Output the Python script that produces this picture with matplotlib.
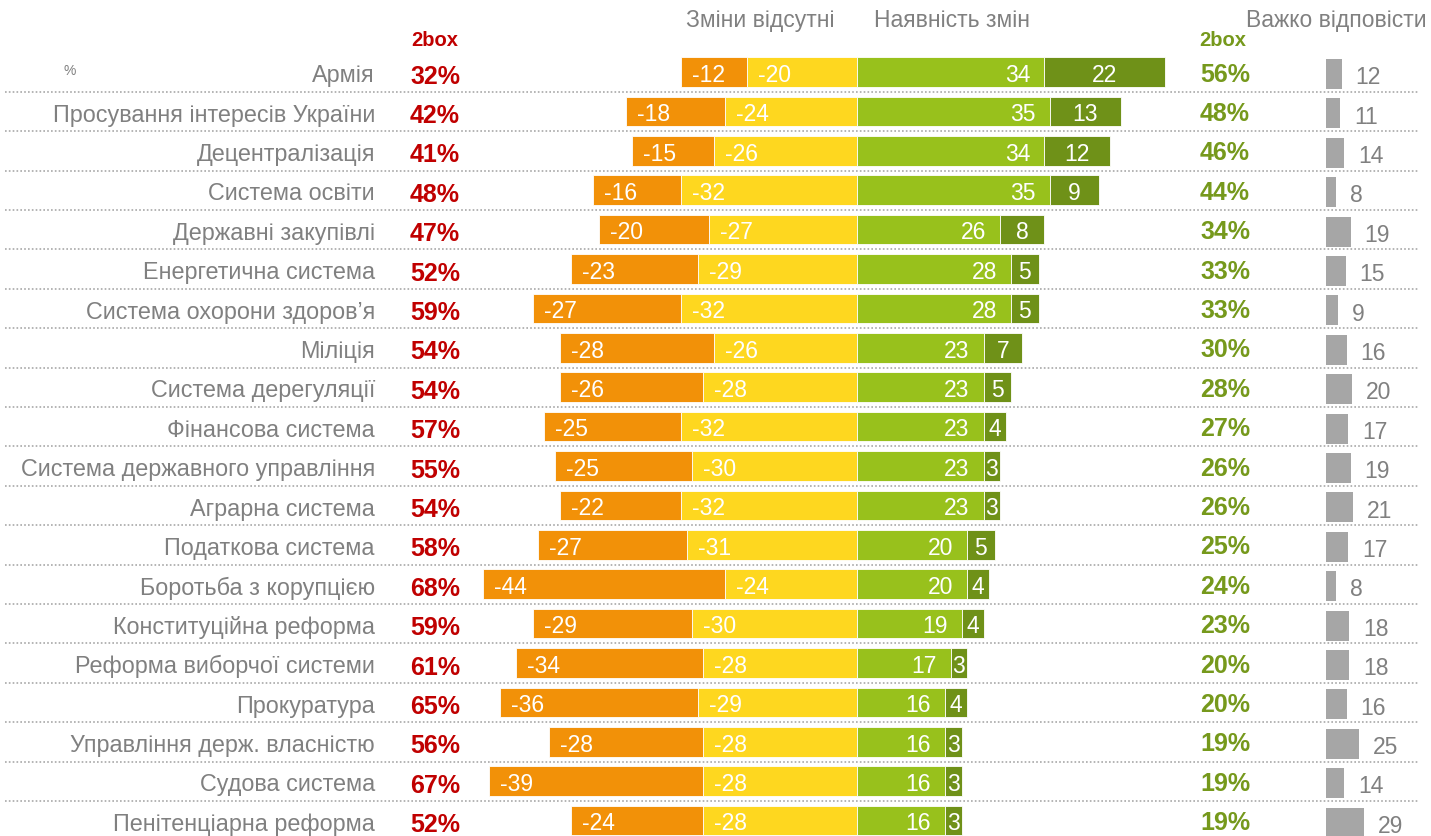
import numpy as np
import matplotlib
matplotlib.use('Agg')
import matplotlib.pyplot as plt
import matplotlib.transforms as mtransforms

plt.rcParams['font.family'] = ['Liberation Sans', 'DejaVu Sans']

# Daten
categories = ['Армія', 'Просування інтересів України', 'Децентралізація', 'Система освіти',
              'Державні закупівлі', 'Енергетична система', 'Система охорони здоров’я', 'Міліція',
              'Система дерегуляції', 'Фінансова система', 'Система державного управління',
              'Аграрна система', 'Податкова система', 'Боротьба з корупцією',
              'Конституційна реформа', 'Реформа виборчої системи', 'Прокуратура',
              'Управління держ. власністю', 'Судова система', 'Пенітенціарна реформа']
neg_2box = [32, 42, 41, 48, 47, 52, 59, 54, 54, 57, 55, 54, 58, 68, 59, 61, 65, 56, 67, 52]
orange = [-12, -18, -15, -16, -20, -23, -27, -28, -26, -25, -25, -22, -27, -44, -29, -34, -36, -28, -39, -24]
yellow = [-20, -24, -26, -32, -27, -29, -32, -26, -28, -32, -30, -32, -31, -24, -30, -28, -29, -28, -28, -28]
lgreen = [34, 35, 34, 35, 26, 28, 28, 23, 23, 23, 23, 23, 20, 20, 19, 17, 16, 16, 16, 16]
dgreen = [22, 13, 12, 9, 8, 5, 5, 7, 5, 4, 3, 3, 5, 4, 4, 3, 4, 3, 3, 3]
pos_2box = [56, 48, 46, 44, 34, 33, 33, 30, 28, 27, 26, 26, 25, 24, 23, 20, 20, 19, 19, 19]
hard = [12, 11, 14, 8, 19, 15, 9, 16, 20, 17, 19, 21, 17, 8, 18, 18, 16, 25, 14, 29]

c_orange = '#F29108'
c_yellow = '#FED71F'
c_lgreen = '#98C11C'
c_dgreen = '#6F9118'
c_gray = '#A6A6A6'
c_red = '#C00000'
c_gtext = '#76991C'
c_text = '#808080'

W, H = 1431, 837
fig = plt.figure(figsize=(W / 100, H / 100), dpi=100)

# Layout in Pixeln
x0, px_unit = 857, 5.5
y0, row_h = 73, 39.4

ax = fig.add_axes([0, 0, 1, 1])
ax.set_xlim(-x0 / px_unit, (W - x0) / px_unit)
ax.set_ylim((H - y0) / row_h, -y0 / row_h)
ax.axis('off')

y = np.arange(len(categories))
bh = 0.75
ax.barh(y, yellow, left=0, height=bh, color=c_yellow, edgecolor='white', linewidth=0.6)
ax.barh(y, orange, left=yellow, height=bh, color=c_orange, edgecolor='white', linewidth=0.6)
ax.barh(y, lgreen, left=0, height=bh, color=c_lgreen, edgecolor='white', linewidth=0.6)
ax.barh(y, dgreen, left=lgreen, height=bh, color=c_dgreen, edgecolor='white', linewidth=0.6)

fs_bar = 16.5
dy = 0.06
for i in range(len(categories)):
    ax.annotate(str(orange[i]), (yellow[i] + orange[i], i + dy), xytext=(8, 0), textcoords='offset points',
                ha='left', va='center', color='white', fontsize=fs_bar)
    ax.annotate(str(yellow[i]), (yellow[i], i + dy), xytext=(8, 0), textcoords='offset points',
                ha='left', va='center', color='white', fontsize=fs_bar)
    ax.annotate(str(lgreen[i]), (lgreen[i], i + dy), xytext=(-10, 0), textcoords='offset points',
                ha='right', va='center', color='white', fontsize=fs_bar)
    ax.text(lgreen[i] + dgreen[i] / 2, i + dy, str(dgreen[i]),
            ha='center', va='center', color='white', fontsize=fs_bar)

# Trennlinien
for i in range(len(categories) - 1):
    ax.axhline(i + 0.5, xmin=5 / W, xmax=1418 / W, color='#A8A8A8', lw=1.2,
               linestyle=(0, (1, 1.3)))

# Spalten mit Texten
tr = mtransforms.blended_transform_factory(fig.transFigure, ax.transData)
for i, cat in enumerate(categories):
    ax.text(375 / W, i + 0.07, cat, transform=tr, ha='right', va='center', color=c_text, fontsize=16.8)
    ax.text(435 / W, i + 0.09, f'{neg_2box[i]}%', transform=tr, ha='center', va='center',
            color=c_red, fontsize=18, fontweight='bold')
    ax.text(1225 / W, i + 0.04, f'{pos_2box[i]}%', transform=tr, ha='center', va='center',
            color=c_gtext, fontsize=18, fontweight='bold')

ax.text(435 / W, (40 - y0) / row_h, '2box', transform=tr, ha='center', va='center',
        color=c_red, fontsize=14.5, fontweight='bold')
ax.text(1223 / W, (40 - y0) / row_h, '2box', transform=tr, ha='center', va='center',
        color=c_gtext, fontsize=14.5, fontweight='bold')
ax.text(70 / W, (71 - y0) / row_h, '%', transform=tr, ha='center', va='center',
        color=c_text, fontsize=10)

hy = (20 - y0) / row_h
ax.text(760 / W, hy, 'Зміни відсутні', transform=tr, ha='center', va='center', color=c_text, fontsize=16.5)
ax.text(952 / W, hy, 'Наявність змін', transform=tr, ha='center', va='center', color=c_text, fontsize=16.5)
ax.text(1336 / W, hy, 'Важко відповісти', transform=tr, ha='center', va='center', color=c_text, fontsize=16.5)

# Важко відповісти - graue Balken
gx0, gpx = 1326, 1.3
ax2 = fig.add_axes([gx0 / W, 0, (W - gx0) / W, 1])
ax2.set_xlim(0, (W - gx0) / gpx)
ax2.set_ylim(ax.get_ylim())
ax2.axis('off')
ax2.patch.set_visible(False)
ax2.barh(y + 0.05, hard, height=0.76, color=c_gray)
for i in range(len(categories)):
    ax2.annotate(str(hard[i]), (hard[i], i + 0.12), xytext=(10, 0), textcoords='offset points',
                 ha='left', va='center', color=c_text, fontsize=16.5)

fig.savefig('out.png', dpi=100)
